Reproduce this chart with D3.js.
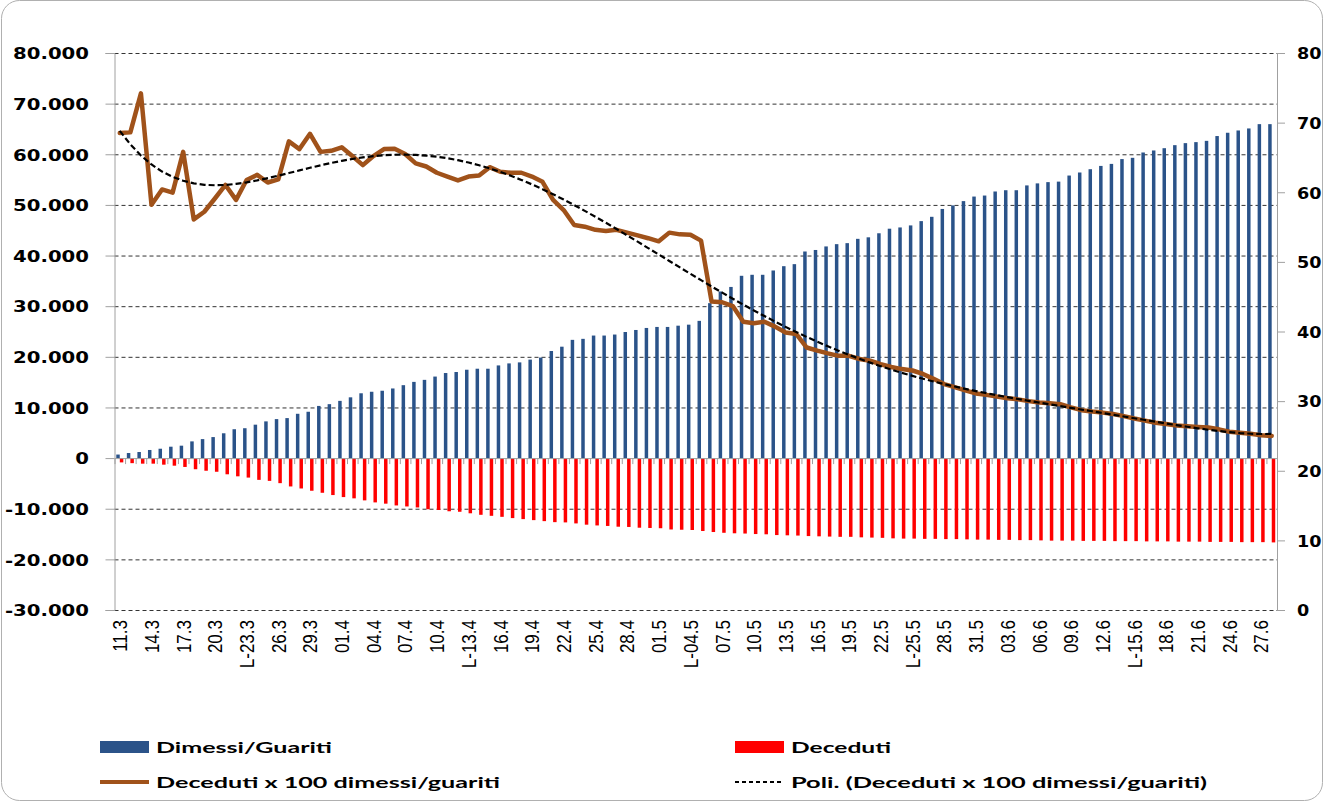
<!DOCTYPE html>
<html>
<head>
<meta charset="utf-8">
<script src="https://cdn.jsdelivr.net/npm/d3@7/dist/d3.min.js"></script>
<style>
  body { margin: 0; background: #fff; }
  svg { display: block; }
</style>
</head>
<body>
<svg id="chart" width="1323" height="802"></svg>
<script>
// days, 11 march -> 28 june
const days = [
  '11.3','12.3','13.3','14.3','15.3','16.3','17.3','18.3','19.3','20.3','21.3','22.3','23.3','24.3','25.3','26.3','27.3','28.3','29.3','30.3','31.3',
  '01.4','02.4','03.4','04.4','05.4','06.4','07.4','08.4','09.4','10.4','11.4','12.4','13.4','14.4','15.4','16.4','17.4','18.4','19.4','20.4',
  '21.4','22.4','23.4','24.4','25.4','26.4','27.4','28.4','29.4','30.4',
  '01.5','02.5','03.5','04.5','05.5','06.5','07.5','08.5','09.5','10.5','11.5','12.5','13.5','14.5','15.5','16.5','17.5','18.5','19.5','20.5',
  '21.5','22.5','23.5','24.5','25.5','26.5','27.5','28.5','29.5','30.5','31.5',
  '01.6','02.6','03.6','04.6','05.6','06.6','07.6','08.6','09.6','10.6','11.6','12.6','13.6','14.6','15.6','16.6','17.6','18.6','19.6','20.6',
  '21.6','22.6','23.6','24.6','25.6','26.6','27.6','28.6'
];

// one label every third day
const tickLabels = [
  '11.3','14.3','17.3','20.3','L-23.3','26.3','29.3','01.4','04.4','07.4','10.4','L-13.4','16.4','19.4','22.4','25.4','28.4',
  '01.5','L-04.5','07.5','10.5','13.5','16.5','19.5','22.5','L-25.5','28.5','31.5','03.6','06.6','09.6','12.6','L-15.6','18.6','21.6','24.6','27.6'
];

const dimessi = [
  700, 1000, 1200, 1600, 1850, 2250, 2450, 3300, 3750, 4150,
  4900, 5700, 5900, 6600, 7250, 7700, 7900, 8750, 9150, 10300,
  10650, 11300, 12000, 12800, 13100, 13300, 13750, 14400, 15050, 15450,
  16100, 16800, 17000, 17450, 17650, 17650, 18300, 18700, 18900, 19450,
  19850, 21150, 22000, 23350, 23550, 24200, 24200, 24400, 24900, 25300,
  25700, 25900, 25900, 26150, 26350, 27100, 30600, 32900, 33800, 36000,
  36200, 36200, 37050, 37900, 38300, 40800, 41100, 41800, 42250, 42450,
  43300, 43600, 44400, 45300, 45550, 45950, 46800, 47650, 49200, 49900,
  50750, 51650, 51850, 52650, 52900, 52900, 53850, 54250, 54500, 54600,
  55800, 56400, 57050, 57700, 58100, 59050, 59300, 60350, 60750, 61200,
  61800, 62200, 62400, 62650, 63600, 64250, 64700, 65100, 65950, 65950
];

const deceduti = [
  -850, -1000, -1100, -1100, -1300, -1500, -1750, -2200, -2500, -2700,
  -3200, -3600, -3850, -4300, -4500, -4950, -5600, -6000, -6450, -6850,
  -7300, -7700, -7950, -8350, -8750, -9000, -9350, -9550, -9750, -10100,
  -10250, -10500, -10600, -10900, -11200, -11400, -11600, -11850, -12050, -12250,
  -12450, -12650, -12700, -12900, -13150, -13300, -13400, -13550, -13600, -13750,
  -13800, -13850, -14100, -14150, -14200, -14400, -14600, -14750, -14850, -14900,
  -15000, -15050, -15200, -15250, -15300, -15400, -15450, -15500, -15550, -15550,
  -15650, -15700, -15750, -15850, -15900, -15900, -15950, -15950, -16000, -16000,
  -16050, -16100, -16100, -16150, -16150, -16200, -16200, -16250, -16300, -16300,
  -16300, -16350, -16350, -16350, -16400, -16400, -16400, -16450, -16450, -16450,
  -16500, -16500, -16500, -16550, -16550, -16550, -16600, -16600, -16600, -16650
];

// deceduti x 100 dimessi/guariti (right axis)
const rapporto = [
  68.5, 68.6, 74.2, 58.2, 60.4, 59.95, 65.8, 56.1, 57.2, 59.1,
  61.05, 58.9, 61.75, 62.5, 61.4, 61.85, 67.3, 66.2, 68.4, 65.8,
  65.95, 66.45, 65.2, 63.9, 65.2, 66.2, 66.25, 65.5, 64.15, 63.7,
  62.8, 62.25, 61.7, 62.25, 62.4, 63.6, 62.95, 62.8, 62.8, 62.25,
  61.5, 58.9, 57.45, 55.3, 55.05, 54.6, 54.45, 54.6, 54.2, 53.8,
  53.4, 52.95, 54.2, 53.95, 53.9, 53.05, 44.3, 44.2, 43.65, 41.4,
  41.2, 41.4, 40.7, 39.85, 39.65, 37.7, 37.25, 36.85, 36.5, 36.5,
  36.05, 35.8, 35.3, 34.9, 34.6, 34.4, 33.9, 33.2, 32.45, 32.0,
  31.55, 31.1, 30.9, 30.65, 30.4, 30.25, 30.0, 29.8, 29.7, 29.55,
  29.1, 28.7, 28.5, 28.35, 28.15, 27.85, 27.5, 27.2, 26.9, 26.7,
  26.5, 26.4, 26.3, 26.2, 25.95, 25.6, 25.45, 25.3, 25.1, 25.0
];

const seriesNames = ['Dimessi/Guariti', 'Deceduti', 'Deceduti x 100 dimessi/guariti', 'Poli. (Deceduti x 100 dimessi/guariti)'];

const BLUE = '#2b5389';
const RED = '#ff0000';
const BROWN = '#a0521a';

const svg = d3.select('#chart');
const plot = { left: 114.5, right: 1277, top: 53, bottom: 610 };

// rounded frame of the original picture
svg.append('rect')
    .attr('x', 1.5).attr('y', 0.5)
    .attr('width', 1321).attr('height', 800)
    .attr('rx', 18)
    .attr('fill', '#fff')
    .attr('stroke', '#b0b0b0');

const itLocale = d3.formatLocale({ decimal: ',', thousands: '.', grouping: [3], currency: ['€', ''], minus: '-' });
const fmt = itLocale.format(',d');

const x = d3.scaleBand().domain(days).range([plot.left, plot.right]).paddingInner(0.32).paddingOuter(0.16);
const xSub = d3.scaleBand().domain(['dimessi', 'deceduti']).range([0, x.bandwidth()]).padding(0.02);
const yL = d3.scaleLinear().domain([-30000, 80000]).range([plot.bottom, plot.top]);
const yR = d3.scaleLinear().domain([0, 80]).range([plot.bottom, plot.top]);
const leftTicks = d3.range(-30000, 80001, 10000);

// dashed grid lines
const grid = svg.append('g')
    .attr('transform', `translate(${plot.left},0)`)
    .call(d3.axisLeft(yL).tickValues(leftTicks.filter(v => v !== 0)).tickSize(-(plot.right - plot.left)).tickFormat(''));
grid.select('.domain').remove();
grid.selectAll('line')
    .attr('stroke', '#333')
    .attr('stroke-dasharray', '4,3');

// bars
svg.append('g').selectAll('rect')
    .data(days)
    .join('rect')
    .attr('x', d => x(d) + xSub('dimessi'))
    .attr('width', xSub.bandwidth())
    .attr('y', (d, i) => yL(dimessi[i]))
    .attr('height', (d, i) => yL(0) - yL(dimessi[i]))
    .attr('fill', BLUE);

svg.append('g').selectAll('rect')
    .data(days)
    .join('rect')
    .attr('x', d => x(d) + xSub('deceduti'))
    .attr('width', xSub.bandwidth())
    .attr('y', yL(0))
    .attr('height', (d, i) => yL(deceduti[i]) - yL(0))
    .attr('fill', RED);

// category axis at zero, ticks on the day boundaries
const xEdges = d3.scaleLinear().domain([0, days.length]).range([plot.left, plot.right]);
const zeroAxis = svg.append('g')
    .attr('transform', `translate(0,${yL(0)})`)
    .call(d3.axisBottom(xEdges).tickValues(d3.range(0, days.length + 1)).tickSize(6).tickSizeOuter(0).tickFormat(''));
zeroAxis.selectAll('line, path').attr('stroke', '#a0a0a0');

// left axis
const axL = svg.append('g')
    .attr('transform', `translate(${plot.left},0)`)
    .call(d3.axisLeft(yL).tickValues(leftTicks).tickSize(9).tickFormat(fmt));
axL.selectAll('line, path').attr('stroke', '#a0a0a0');
axL.selectAll('text')
    .attr('x', 0)
    .attr('dy', '0.36em')
    .attr('transform', `translate(${89 - plot.left},0) scale(1.23,1)`)
    .attr('fill', '#000')
    .style('font', 'bold 16px "DejaVu Sans", Verdana, sans-serif');

// right axis
const axR = svg.append('g')
    .attr('transform', `translate(${plot.right},0)`)
    .call(d3.axisRight(yR).ticks(8).tickSize(8));
axR.selectAll('line, path').attr('stroke', '#a0a0a0');
axR.selectAll('text')
    .attr('x', 0)
    .attr('dy', '0.36em')
    .attr('transform', 'translate(20,0) scale(1.1,1)')
    .attr('fill', '#000')
    .style('font', 'bold 16px "DejaVu Sans", Verdana, sans-serif');

// date labels under the plot
const tickDays = days.filter((d, i) => i % 3 === 0);
const axB = svg.append('g')
    .attr('transform', `translate(0,${plot.bottom})`)
    .call(d3.axisBottom(x).tickValues(tickDays).tickSize(0).tickFormat((d, i) => tickLabels[i]));
axB.select('.domain').remove();
axB.selectAll('text')
    .attr('x', 0)
    .attr('y', 0)
    .attr('dy', '0.36em')
    .attr('text-anchor', 'end')
    .attr('transform', 'translate(0,10) scale(1.2,1) rotate(-90)')
    .attr('fill', '#000')
    .style('font', '17px "Liberation Sans", Arial, sans-serif');

// ratio line
const cx = d => x(d) + x.bandwidth() / 2;
const line = d3.line().x(d => cx(d[0])).y(d => yR(d[1]));
const pairs = days.map((d, i) => [d, rapporto[i]]);
svg.append('path')
    .datum(pairs)
    .attr('d', line)
    .attr('fill', 'none')
    .attr('stroke', BROWN)
    .attr('stroke-width', 4.5)
    .attr('stroke-linejoin', 'round')
    .attr('stroke-linecap', 'round');

// polynomial trend (order 6, least squares like the spreadsheet)
function polyfit(xs, ys, deg) {
    const n = deg + 1;
    const A = Array.from({ length: n }, () => new Array(n + 1).fill(0));
    xs.forEach((xv, k) => {
        for (let r = 0; r < n; r++) {
            for (let c = 0; c < n; c++) A[r][c] += Math.pow(xv, r + c);
            A[r][n] += ys[k] * Math.pow(xv, r);
        }
    });
    for (let c = 0; c < n; c++) {
        let p = c;
        for (let r = c + 1; r < n; r++) if (Math.abs(A[r][c]) > Math.abs(A[p][c])) p = r;
        [A[c], A[p]] = [A[p], A[c]];
        for (let r = 0; r < n; r++) {
            if (r === c) continue;
            const f = A[r][c] / A[c][c];
            for (let k = c; k <= n; k++) A[r][k] -= f * A[c][k];
        }
    }
    return A.map((row, r) => row[n] / A[r][r]);
}
const mid = (days.length - 1) / 2;
const tx = days.map((d, i) => (i - mid) / mid);
const coef = polyfit(tx, rapporto, 6);
const trend = days.map((d, i) => [d, coef.reduce((s, c, k) => s + c * Math.pow(tx[i], k), 0)]);
svg.append('path')
    .datum(trend)
    .attr('d', line)
    .attr('fill', 'none')
    .attr('stroke', '#000')
    .attr('stroke-width', 2.2)
    .attr('stroke-dasharray', '6,3');

// legend
const legend = svg.append('g').style('font', 'bold 16px Lato, "Liberation Sans", sans-serif');
const legendItems = [
    { name: seriesNames[0], kind: 'rect', color: BLUE, x: 100, y: 747, len: 176 },
    { name: seriesNames[1], kind: 'rect', color: RED, x: 735, y: 747, len: 100 },
    { name: seriesNames[2], kind: 'line', color: BROWN, x: 100, y: 782, len: 344 },
    { name: seriesNames[3], kind: 'dash', color: '#000', x: 735, y: 782, len: 416 }
];
legendItems.forEach(it => {
    if (it.kind === 'rect') {
        legend.append('rect').attr('x', it.x).attr('y', it.y - 6).attr('width', 49).attr('height', 12).attr('fill', it.color);
    } else {
        legend.append('line')
            .attr('x1', it.x).attr('x2', it.x + 49).attr('y1', it.y).attr('y2', it.y)
            .attr('stroke', it.color)
            .attr('stroke-width', it.kind === 'line' ? 4 : 2)
            .attr('stroke-dasharray', it.kind === 'dash' ? '4,3' : null);
    }
    legend.append('text')
        .attr('x', it.x + 56)
        .attr('y', it.y + 6)
        .attr('textLength', it.len)
        .attr('lengthAdjust', 'spacingAndGlyphs')
        .text(it.name);
});
</script>
</body>
</html>
